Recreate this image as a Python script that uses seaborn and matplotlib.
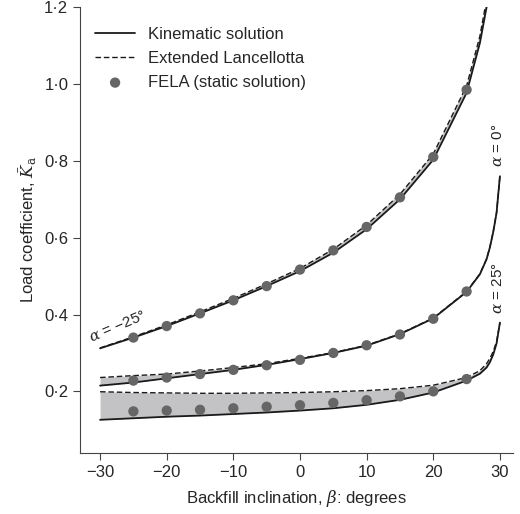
import matplotlib
matplotlib.use("Agg")
import matplotlib.pyplot as plt
import seaborn as sns
import numpy as np
import pandas as pd

beta = [-30, -25, -20, -15, -10, -5, 0, 5, 10, 15, 20, 25, 27, 28, 28.5, 29, 29.5, 30]
kin_m25 = [0.312, 0.340, 0.370, 0.403, 0.437, 0.474, 0.513, 0.561, 0.622, 0.700, 0.803, 0.977, 1.107, 1.20, 1.28, 1.40, 1.60, 1.90]
lan_m25 = [0.313, 0.342, 0.373, 0.407, 0.442, 0.480, 0.520, 0.570, 0.633, 0.713, 0.818, 0.995, 1.125, 1.22, 1.30, 1.42, 1.62, 1.92]
kin_0 = [0.215, 0.223, 0.234, 0.245, 0.256, 0.269, 0.284, 0.300, 0.319, 0.349, 0.390, 0.459, 0.505, 0.544, 0.575, 0.615, 0.665, 0.760]
lan_0 = [0.236, 0.241, 0.245, 0.253, 0.262, 0.272, 0.286, 0.301, 0.320, 0.350, 0.391, 0.460, 0.506, 0.545, 0.576, 0.616, 0.666, 0.760]
kin_25 = [0.126, 0.130, 0.134, 0.137, 0.141, 0.145, 0.150, 0.156, 0.165, 0.178, 0.197, 0.228, 0.246, 0.262, 0.276, 0.296, 0.325, 0.379]
lan_25 = [0.199, 0.197, 0.196, 0.195, 0.195, 0.196, 0.197, 0.199, 0.202, 0.207, 0.216, 0.236, 0.254, 0.272, 0.286, 0.304, 0.330, 0.379]

fela_beta = [-25, -20, -15, -10, -5, 0, 5, 10, 15, 20, 25]
fela_m25 = [0.340, 0.370, 0.403, 0.437, 0.474, 0.517, 0.567, 0.628, 0.705, 0.810, 0.985]
fela_0 = [0.228, 0.236, 0.245, 0.256, 0.268, 0.282, 0.300, 0.320, 0.348, 0.389, 0.460]
fela_25 = [0.148, 0.150, 0.152, 0.156, 0.160, 0.164, 0.170, 0.177, 0.187, 0.200, 0.232]

xticks = [-30, -20, -10, 0, 10, 20, 30]
xticklabels = ["\u221230", "\u221220", "\u221210", "0", "10", "20", "30"]
yticks = [0.2, 0.4, 0.6, 0.8, 1.0, 1.2]
yticklabels = ["0\u00b72", "0\u00b74", "0\u00b76", "0\u00b78", "1\u00b70", "1\u00b72"]

sns.set_style("ticks")
plt.rcParams['font.family'] = ['Liberation Sans', 'DejaVu Sans']
plt.rcParams['mathtext.fontset'] = 'dejavuserif'

fig = plt.figure(figsize=(5.2, 5.14), dpi=100)
ax = fig.add_axes([0.154, 0.119, 0.833, 0.867])

grey = "#c3c3c6"
pairs = [(kin_m25, lan_m25), (kin_0, lan_0), (kin_25, lan_25)]
for k, l in pairs:
    ax.fill_between(beta, k, l, color=grey, lw=0, zorder=1)

for i, (k, l) in enumerate(pairs):
    df = pd.DataFrame({"beta": beta, "kin": k, "lan": l})
    sns.lineplot(data=df, x="beta", y="kin", ax=ax, color="#1a1a1a", lw=1.3, zorder=3,
                 label="Kinematic solution" if i == 0 else None)
    sns.lineplot(data=df, x="beta", y="lan", ax=ax, color="#1a1a1a", lw=1.0, ls=(0, (4, 2)), zorder=3,
                 label="Extended Lancellotta" if i == 0 else None)

for i, f in enumerate([fela_m25, fela_0, fela_25]):
    sns.scatterplot(x=fela_beta, y=f, ax=ax, color="#666666", s=55, edgecolor="none", zorder=4,
                    label="FELA (static solution)" if i == 0 else None)

ax.text(-27.3, 0.368, "$\\alpha$ = \u221225\u00b0", rotation=23, fontsize=11, ha="center", va="center")
ax.text(29.7, 0.84, "$\\alpha$ = 0\u00b0", rotation=90, fontsize=11, ha="center", va="center",
        bbox=dict(facecolor="white", edgecolor="none", pad=1), zorder=5)
ax.text(29.7, 0.47, "$\\alpha$ = 25\u00b0", rotation=90, fontsize=11, ha="center", va="center",
        bbox=dict(facecolor="white", edgecolor="none", pad=1), zorder=5)

ax.set_xlim(-33, 32)
ax.set_ylim(0.04, 1.2)
ax.set_xticks(xticks)
ax.set_xticklabels(xticklabels)
ax.set_yticks(yticks)
ax.set_yticklabels(yticklabels)
ax.tick_params(labelsize=12, length=5, color="#444444")
ax.set_xlabel("Backfill inclination, $\\beta$: degrees", fontsize=12, labelpad=6)
ax.set_ylabel("Load coefficient, $\\bar{K}_{\\mathrm{a}}$", fontsize=12)
sns.despine(ax=ax)
for s in ["left", "bottom"]:
    ax.spines[s].set_color("#444444")

ax.legend(loc="upper left", bbox_to_anchor=(0.0, 0.99), frameon=False, fontsize=12,
          handlelength=2.4, labelspacing=0.55)
fig.savefig("out.png", dpi=100)
